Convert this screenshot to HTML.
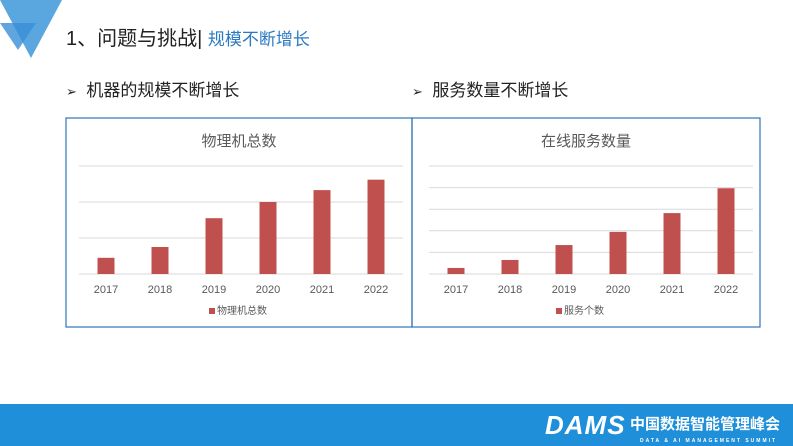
<!DOCTYPE html>
<html><head><meta charset="utf-8"><style>
body{margin:0;width:793px;height:446px;overflow:hidden;background:#fff;font-family:"Liberation Sans","Noto Sans CJK SC",sans-serif;position:relative}
.abs{position:absolute}
</style></head><body>
<svg class="abs" style="left:0;top:0" width="70" height="60">
<polygon points="0,0 62,0 31,58" fill="#5aa7e0"/>
<polygon points="0,23 36,23 18,50" fill="#3a8fd6" opacity="0.8"/>
</svg>
<div class="abs" style="left:66px;top:22px;font-size:20px;color:#222;white-space:nowrap">1、问题与挑战| <span style="font-size:17px;color:#2b79c2">规模不断增长</span></div>
<div class="abs" style="left:66px;top:76px;font-size:17px;color:#222;white-space:nowrap"><span style="font-size:13px">➢</span>&nbsp; 机器的规模不断增长</div>
<div class="abs" style="left:412px;top:76px;font-size:17px;color:#222;white-space:nowrap"><span style="font-size:13px">➢</span>&nbsp; 服务数量不断增长</div>
<svg class="abs" style="left:0;top:0" width="793" height="446" id="charts"></svg>
<div class="abs" style="left:0;top:404px;width:793px;height:42px;background:#1f8fd9"></div>
<div class="abs" style="left:545px;top:410px;color:#fff;white-space:nowrap">
<span style="font-size:26px;font-weight:bold;font-style:italic;letter-spacing:1px">DAMS</span>
<span style="font-size:15px;font-weight:bold;position:relative;top:-5px">中国数据智能管理峰会</span>
<div style="position:absolute;left:95px;top:28px;font-size:5px;letter-spacing:2px;font-weight:bold">DATA &amp; AI MANAGEMENT SUMMIT</div>
</div>
<script>
const years=["2017","2018","2019","2020","2021","2022"];
const machineValues=[45,75,155,200,233,262];
const serviceValues=[28,65,134,195,282,397];
const machineTicks=[0,100,200,300];
const serviceTicks=[0,100,200,300,400,500];
const NS="http://www.w3.org/2000/svg";
const svg=document.getElementById('charts');
function mk(t,a,p){const e=document.createElementNS(NS,t);for(const k in a)e.setAttribute(k,a[k]);(p||svg).appendChild(e);return e;}
function chart(o){
  const g=mk('g',{});
  
  
  const b=mk('rect',{x:o.bx,y:118,width:o.bw,height:209,fill:'none',stroke:'#2e75b6','stroke-width':1.2},g);
  
  
  const t=mk('text',{x:o.bx+o.bw/2,y:146,'text-anchor':'middle','font-size':15,fill:'#595959'},g);t.textContent=o.title;
  
  
  const max=o.ticks[o.ticks.length-1];
  const y=v=>274-v/max*(274-166);
  o.ticks.forEach(v=>{const l=mk('line',{x1:o.x0,x2:o.x1,y1:y(v),y2:y(v),stroke:'#d9d9d9'},g);
    
    });
  const step=(o.x1-o.x0)/years.length;
  o.vals.forEach((v,i)=>{const cx=o.x0+step*(i+0.5);
    const r=mk('rect',{x:cx-8.5,y:y(v),width:17,height:274-y(v),fill:'#c0504d'},g);
    
    
    const tx=mk('text',{x:cx,y:293,'text-anchor':'middle','font-size':11,fill:'#595959'},g);tx.textContent=years[i];
    
    });
  const lg=mk('g',{},g);
  
  
  const lx=o.bx+o.bw/2-30;
  mk('rect',{x:lx,y:308,width:6,height:6,fill:'#c0504d'},lg);
  const lt=mk('text',{x:lx+8,y:314,'font-size':10,fill:'#595959'},lg);lt.textContent=o.legend;
}
chart({name:'machines-chart',bx:66,bw:346,x0:79,x1:403,title:'物理机总数',vals:machineValues,ticks:machineTicks,legend:'物理机总数'});
chart({name:'services-chart',bx:412,bw:348,x0:429,x1:753,title:'在线服务数量',vals:serviceValues,ticks:serviceTicks,legend:'服务个数'});
</script>
</body></html>
